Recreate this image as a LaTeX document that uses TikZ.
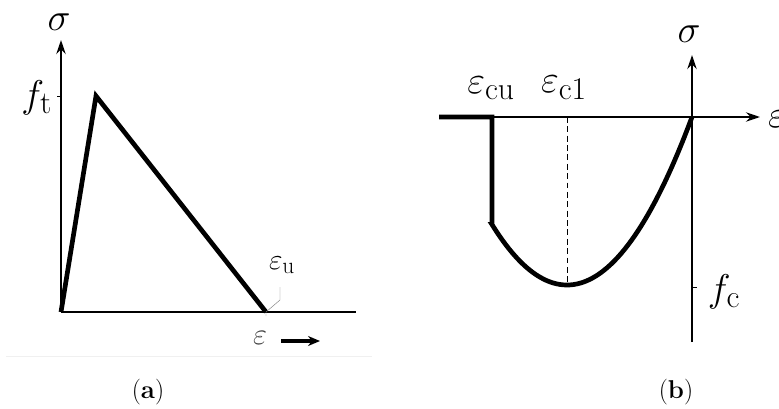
\RequirePackage{fix-cm}
\documentclass[tikz,border=0pt]{standalone}
\usetikzlibrary{arrows.meta}
\DeclareMathSizes{33}{33}{27}{21}
\DeclareMathSizes{25}{25}{20}{16}
\tikzset{
  axis/.style={line width=2.2pt},
  curve/.style={line width=4pt, line join=miter},
  lbl/.style={font=\fontsize{33}{40}\selectfont},
  sublbl/.style={font=\fontsize{25}{30}\selectfont},
  caplbl/.style={font=\fontsize{22}{26}\selectfont},
}
\begin{document}
\begin{tikzpicture}[x=0.3mm, y=-0.3mm, >={Stealth[length=4.2mm,width=2.8mm]}]
    \useasboundingbox (0,0) rectangle (779,408);

    % (a) tension
    \coordinate (oa) at (61,312);
    \coordinate (pk) at (96,96);
    \coordinate (eu) at (266,312);
    \coordinate (topa) at (61,40);
    \coordinate (enda) at (356,312);
    \draw[axis,->] (oa) -- (topa);
    \draw[axis] (oa) -- (enda);
    \node[lbl] (siga) at (59,22) {$\sigma$};
    \draw[thin] (57,96) -- (61,96);
    \node[lbl, anchor=east] (ft) at (56,98) {$f_{\mathrm{t}}$};
    \draw[curve] (oa) -- (pk) -- (eu);
    \draw[gray, thin] (266,316) -- (eu) -- (280,300) -- (280,287);
    \node[sublbl] (eulbl) at (282,265) {$\varepsilon_{\mathrm{u}}$};

    \node[font=\fontsize{26}{30}\selectfont, text=black!75] (epsa) at (260,338) {$\varepsilon$};
    \coordinate (arra) at (320,341);
    \draw[line width=2.6pt, -{Stealth[length=3.6mm,width=3mm]}] (281,341) -- (arra);
    \draw[black!6, line width=0.8pt] (6,356) -- (372,356);

    % (b) compression
    \coordinate (ob) at (692,117);
    \coordinate (botb) at (692,342);
    \coordinate (topb) at (692,55);
    \coordinate (leftb) at (439,117);
    \coordinate (rightb) at (760,117);
    \coordinate (ecu) at (492,117);
    \coordinate (ec1) at (567,117);
    \coordinate (pmin) at (567,285);
    \draw[axis,->] (botb) -- (topb);
    \draw[axis,->] (leftb) -- (rightb);
    \draw[thin, dash pattern=on 5pt off 3pt] (ec1) -- (pmin);
    \draw[curve] (leftb) -- (ecu) -- (492,{117+168*0.64})
        -- plot[domain=1.6:0, samples=60] ({692-125*\x},{117+168*(2*\x-\x*\x)});
    \draw[thin] (692,287) -- (697,287);
    \node[lbl] (sigb) at (689,34) {$\sigma$};
    \node[lbl, anchor=west] (epsb) at (764,119) {$\varepsilon$};
    \node[lbl] (ecul) at (491,88) {$\varepsilon_{\mathrm{cu}}$};
    \node[lbl] (ec1l) at (564,88) {$\varepsilon_{\mathrm{c1}}$};
    \node[lbl] (fc) at (724,292) {$f_{\mathrm{c}}$};

    % captions
    \node[caplbl] (capa) at (148,392) {(\textbf{a})};
    \node[caplbl] (capb) at (676,392) {(\textbf{b})};
\end{tikzpicture}
\end{document}
